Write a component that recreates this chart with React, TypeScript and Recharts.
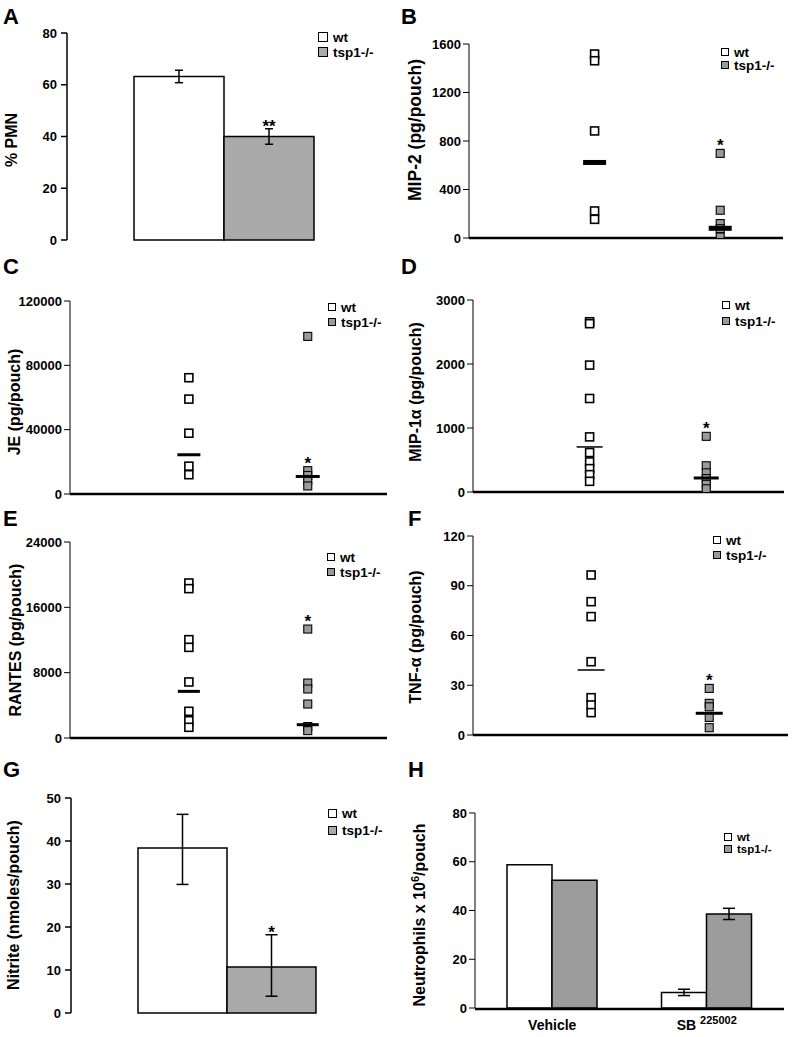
import React from 'react';
import {
  BarChart,
  Bar,
  ScatterChart,
  Scatter,
  XAxis,
  YAxis,
  ErrorBar,
  LabelList,
  Legend,
} from 'recharts';

const FONT = '"Liberation Sans", Arial, Helvetica, sans-serif';
const INK = '#000000';
const BAR_GRAY = '#a9a9a9';
const BAR_GRAY_H = '#9c9c9c';
const DOT_GRAY = '#9a9a9a';

const groups = ['wt', 'tsp1-/-'];

// A: % PMN (mean, sem)
const pmnMean = [63.2, 40.0];
const pmnSem = [2.4, 3.0];
const pmnTicks = [0, 20, 40, 60, 80];

// B: MIP-2 (pg/pouch)
const mip2Wt = [1517, 1462, 883, 223, 154];
const mip2Ko = [698, 229, 119, 77, 8];
const mip2Avg = [623, 80];
const mip2Ticks = [0, 400, 800, 1200, 1600];

// C: JE (pg/pouch)
const jeWt = [72300, 59000, 37800, 17300, 12000];
const jeKo = [98000, 14500, 11500, 8500, 5000];
const jeAvg = [24400, 10900];
const jeTicks = [0, 40000, 80000, 120000];

// D: MIP-1a (pg/pouch)
const mip1aWt = [2660, 2630, 1983, 1461, 861, 616, 470, 365, 271, 167];
const mip1aKo = [870, 410, 300, 210, 120, 50];
const mip1aAvg = [704, 219];
const mip1aTicks = [0, 1000, 2000, 3000];

// E: RANTES (pg/pouch)
const rantesWt = [18980, 18290, 12040, 11100, 6860, 3270, 2120, 1310];
const rantesKo = [13340, 6730, 6000, 4160, 1400, 900];
const rantesAvg = [5710, 1630];
const rantesTicks = [0, 8000, 16000, 24000];

// F: TNF-a (pg/pouch)
const tnfWt = [96.5, 80.4, 71.4, 44.2, 22.5, 18.1, 13.5];
const tnfKo = [28.1, 19.1, 17.0, 10.6, 4.4];
const tnfAvg = [39.2, 13.1];
const tnfTicks = [0, 30, 60, 90, 120];

// G: nitrite (mean, [lower, upper] error)
const nitriteMean = [38.4, 10.7];
const nitriteErr = [
  [8.5, 7.8],
  [6.8, 7.5],
];
const nitriteTicks = [0, 10, 20, 30, 40, 50];

// H: neutrophils x 10^6 / pouch
const treatments = ['Vehicle', 'SB 225002'];
const neutWt = [58.8, 6.4];
const neutKo = [52.4, 38.6];
const neutWtErr = [0, 1.3];
const neutKoErr = [0, 2.3];
const neutTicks = [0, 20, 40, 60, 80];

type Box = { left: number; top: number; width: number; height: number };
type Plot = { x0: number; x1: number; y0: number; y1: number };
type Key = { x: number; y: number; row: number; sw: number; size?: number };

const Y_W = 45;

function marginFor(box: Box, plot: Plot, xAxesH: number) {
  return {
    top: plot.y0 - box.top,
    left: plot.x0 - box.left - Y_W,
    right: box.left + box.width - plot.x1,
    bottom: box.top + box.height - plot.y1 - xAxesH,
  };
}

const tickStyle = { fill: INK, fontSize: 13, fontWeight: 700, fontFamily: FONT };

const pts = (vals: number[], g: number) => vals.map((v) => ({ x: g, y: v }));

function axisTitle(box: Box, x: number, y: number, title: React.ReactNode, size = 16) {
  const lx = x - box.left;
  const ly = y - box.top;
  return () => (
    <text
      x={lx}
      y={ly}
      transform={`rotate(-90 ${lx} ${ly})`}
      textAnchor="middle"
      fill={INK}
      fontSize={size}
      fontWeight={700}
      fontFamily={FONT}
    >
      {title}
    </text>
  );
}

function keyContent(k: Key) {
  return (props: any) => {
    const items = (props.payload || [])
      .filter((e: any) => e.type !== 'none')
      .slice()
      .sort((a: any, b: any) => groups.indexOf(a.value) - groups.indexOf(b.value));
    return (
      <div style={{ fontFamily: FONT, fontWeight: 700, fontSize: k.size ?? 13.5, color: INK }}>
        {items.map((e: any) => (
          <div
            key={e.value}
            style={{ display: 'flex', alignItems: 'center', height: k.row, whiteSpace: 'nowrap' }}
          >
            <span
              style={{
                display: 'inline-block',
                width: k.sw,
                height: k.sw,
                boxSizing: 'border-box',
                border: `1.5px solid ${INK}`,
                background: e.color,
                marginRight: 5,
              }}
            />
            {e.value}
          </div>
        ))}
      </div>
    );
  };
}

function keyLegend(box: Box, k: Key) {
  return (
    <Legend
      layout="vertical"
      align="center"
      verticalAlign="middle"
      wrapperStyle={{ left: k.x - box.left, top: k.y - box.top, width: 'auto', height: 'auto' }}
      content={keyContent(k)}
    />
  );
}

const square = (fill: string, sw: number) => (s: any) => (
  <rect x={s.cx - 4} y={s.cy - 4} width={8} height={8} fill={fill} stroke={INK} strokeWidth={sw} />
);

const meanMark = (w: number, t: number) => (s: any) => (
  <rect x={s.cx - w / 2} y={s.cy - t / 2} width={w} height={t} fill={INK} />
);

const starMark = (s: any) => (
  <text x={s.cx} y={s.cy - 2} textAnchor="middle" fontSize={17} fontWeight={700} fontFamily={FONT} fill={INK}>
    *
  </text>
);

// star above a bar's error bar, placed from the bar's own geometry
const barStar = (text: string, upper: number[], lift: number) => (props: any) => {
  const vb = props.viewBox || props;
  const v = Number(props.value);
  if (!v) return null;
  const idx = props.index ?? 0;
  const top = vb.y - (vb.height / v) * upper[idx];
  return (
    <text
      x={vb.x + vb.width / 2}
      y={top + lift}
      textAnchor="middle"
      fontSize={17}
      fontWeight={700}
      fontFamily={FONT}
      fill={INK}
    >
      {text}
    </text>
  );
};

function Letter({ ch, x, y }: { ch: string; x: number; y: number }) {
  return (
    <div
      style={{
        position: 'absolute',
        left: x,
        top: y,
        fontSize: 22,
        lineHeight: '22px',
        fontWeight: 700,
        fontFamily: FONT,
      }}
    >
      {ch}
    </div>
  );
}

interface DotPanelProps {
  box: Box;
  plot: Plot;
  xMax: number;
  yMax: number;
  ticks: number[];
  wt: number[];
  ko: number[];
  avg: number[];
  star: number;
  meanW: number[];
  meanT: number[];
  title: React.ReactNode;
  titleX: number;
  titleY: number;
  titleSize?: number;
  k: Key;
}

function DotPanel(p: DotPanelProps) {
  const { box, plot } = p;
  return (
    <div style={{ position: 'absolute', left: box.left, top: box.top }}>
      <ScatterChart width={box.width} height={box.height} margin={marginFor(box, plot, 1)}>
        <XAxis
          type="number"
          dataKey="x"
          domain={[0, p.xMax]}
          allowDataOverflow
          height={1}
          tick={false}
          tickLine={false}
          axisLine={{ stroke: INK, strokeWidth: 2.5 }}
        />
        <YAxis
          type="number"
          dataKey="y"
          domain={[0, p.yMax]}
          allowDataOverflow
          ticks={p.ticks}
          interval={0}
          width={Y_W}
          tickSize={6}
          tickMargin={2}
          tick={tickStyle}
          tickLine={{ stroke: INK }}
          axisLine={{ stroke: INK }}
          label={axisTitle(box, p.titleX, p.titleY, p.title, p.titleSize)}
        />
        {keyLegend(box, p.k)}
        <Scatter name={groups[0]} data={pts(p.wt, 1)} fill="#ffffff" shape={square('#ffffff', 1.6)} isAnimationActive={false} />
        <Scatter name={groups[1]} data={pts(p.ko, 2)} fill={DOT_GRAY} shape={square(DOT_GRAY, 1.1)} isAnimationActive={false} />
        <Scatter legendType="none" data={pts([p.avg[0]], 1)} shape={meanMark(p.meanW[0], p.meanT[0])} isAnimationActive={false} />
        <Scatter legendType="none" data={pts([p.avg[1]], 2)} shape={meanMark(p.meanW[1], p.meanT[1])} isAnimationActive={false} />
        <Scatter legendType="none" data={pts([p.star], 2)} shape={starMark} isAnimationActive={false} />
      </ScatterChart>
    </div>
  );
}

function PmnPanel() {
  const box = { left: 0, top: 0, width: 396, height: 255 };
  const plot = { x0: 67, x1: 381, y0: 33, y1: 240 };
  const rows = [{ name: 'PMN', wt: pmnMean[0], wtErr: pmnSem[0], ko: pmnMean[1], koErr: pmnSem[1] }];
  return (
    <div style={{ position: 'absolute', left: box.left, top: box.top }}>
      <BarChart width={box.width} height={box.height} data={rows} margin={marginFor(box, plot, 1)} barGap={0}>
        <XAxis
          xAxisId="frame"
          type="number"
          domain={[0, 1]}
          ticks={[0, 1]}
          allowDataOverflow
          height={1}
          tick={false}
          tickSize={5}
          tickLine={{ stroke: INK, strokeWidth: 1.5 }}
          axisLine={{ stroke: INK, strokeWidth: 1.5 }}
        />
        <XAxis dataKey="name" hide />
        <YAxis
          domain={[0, 80]}
          ticks={pmnTicks}
          interval={0}
          width={Y_W}
          tickSize={6}
          tickMargin={4}
          tick={tickStyle}
          tickLine={{ stroke: INK, strokeWidth: 1.5 }}
          axisLine={{ stroke: INK, strokeWidth: 1.5 }}
          label={axisTitle(box, 17, 140, '% PMN')}
        />
        {keyLegend(box, { x: 318, y: 29.5, row: 15, sw: 10 })}
        <Bar dataKey="wt" name={groups[0]} fill="#ffffff" stroke={INK} strokeWidth={1.5} barSize={90} isAnimationActive={false}>
          <ErrorBar dataKey="wtErr" width={4} stroke={INK} strokeWidth={1.5} />
        </Bar>
        <Bar dataKey="ko" name={groups[1]} fill={BAR_GRAY} stroke={INK} strokeWidth={1.5} barSize={90} isAnimationActive={false}>
          <ErrorBar dataKey="koErr" width={4} stroke={INK} strokeWidth={1.5} />
          <LabelList dataKey="ko" content={barStar('**', [pmnSem[1]], 3)} />
        </Bar>
      </BarChart>
    </div>
  );
}

function NitritePanel() {
  const box = { left: 0, top: 750, width: 396, height: 287 };
  const plot = { x0: 71, x1: 382, y0: 798, y1: 1013 };
  const rows = [
    { name: 'Nitrite', wt: nitriteMean[0], wtErr: nitriteErr[0], ko: nitriteMean[1], koErr: nitriteErr[1] },
  ];
  return (
    <div style={{ position: 'absolute', left: box.left, top: box.top }}>
      <BarChart width={box.width} height={box.height} data={rows} margin={marginFor(box, plot, 1)} barGap={0}>
        <XAxis
          xAxisId="frame"
          type="number"
          domain={[0, 1]}
          ticks={[0, 1]}
          allowDataOverflow
          height={1}
          tick={false}
          tickSize={5}
          tickLine={{ stroke: INK, strokeWidth: 1.5 }}
          axisLine={{ stroke: INK, strokeWidth: 1.5 }}
        />
        <XAxis dataKey="name" hide />
        <YAxis
          domain={[0, 50]}
          ticks={nitriteTicks}
          interval={0}
          width={Y_W}
          tickSize={6}
          tickMargin={4}
          tick={tickStyle}
          tickLine={{ stroke: INK, strokeWidth: 1.5 }}
          axisLine={{ stroke: INK, strokeWidth: 1.5 }}
          label={axisTitle(box, 19, 905, 'Nitrite (nmoles/pouch)')}
        />
        {keyLegend(box, { x: 328, y: 804.5, row: 17, sw: 9 })}
        <Bar dataKey="wt" name={groups[0]} fill="#ffffff" stroke={INK} strokeWidth={1.5} barSize={89} isAnimationActive={false}>
          <ErrorBar dataKey="wtErr" width={6} stroke={INK} strokeWidth={1.5} />
        </Bar>
        <Bar dataKey="ko" name={groups[1]} fill={BAR_GRAY} stroke={INK} strokeWidth={1.5} barSize={89} isAnimationActive={false}>
          <ErrorBar dataKey="koErr" width={6} stroke={INK} strokeWidth={1.5} />
          <LabelList dataKey="ko" content={barStar('*', [nitriteErr[1][1]], 3)} />
        </Bar>
      </BarChart>
    </div>
  );
}

const treatmentTick = (props: any) => {
  const { x, y, payload } = props;
  const [main, sup] = String(payload.value).split(' ');
  return (
    <text x={x} y={y + 14} textAnchor="middle" fill={INK} fontSize={14} fontWeight={700} fontFamily={FONT}>
      {main}
      {sup && (
        <tspan dx={4} dy={-6} fontSize={11}>
          {sup}
        </tspan>
      )}
    </text>
  );
};

function NeutrophilPanel() {
  const box = { left: 396, top: 750, width: 397, height: 287 };
  const plot = { x0: 475, x1: 784, y0: 813, y1: 1008 };
  const rows = treatments.map((t, i) => ({
    name: t,
    wt: neutWt[i],
    wtErr: neutWtErr[i],
    ko: neutKo[i],
    koErr: neutKoErr[i],
  }));
  return (
    <div style={{ position: 'absolute', left: box.left, top: box.top }}>
      <BarChart width={box.width} height={box.height} data={rows} margin={marginFor(box, plot, 2)} barGap={0}>
        <XAxis
          xAxisId="frame"
          type="number"
          domain={[0, treatments.length]}
          ticks={[0, 1, 2]}
          allowDataOverflow
          height={1}
          tick={false}
          tickSize={5}
          tickLine={{ stroke: INK, strokeWidth: 1 }}
          axisLine={{ stroke: INK, strokeWidth: 2.5 }}
        />
        <XAxis dataKey="name" height={1} axisLine={false} tickLine={false} tick={treatmentTick} interval={0} />
        <YAxis
          domain={[0, 80]}
          ticks={neutTicks}
          interval={0}
          width={Y_W}
          tickSize={6}
          tickMargin={2}
          tick={tickStyle}
          tickLine={{ stroke: INK }}
          axisLine={{ stroke: INK }}
          label={axisTitle(
            box,
            425,
            915,
            <>
              Neutrophils x 10
              <tspan dy={-6} fontSize={11}>
                6
              </tspan>
              <tspan dy={6}>/pouch</tspan>
            </>,
          )}
        />
        {keyLegend(box, { x: 724, y: 831, row: 12, sw: 8, size: 11.5 })}
        <Bar dataKey="wt" name={groups[0]} fill="#ffffff" stroke={INK} strokeWidth={1.5} barSize={45} isAnimationActive={false}>
          <ErrorBar dataKey="wtErr" width={6} stroke={INK} strokeWidth={1.5} />
        </Bar>
        <Bar dataKey="ko" name={groups[1]} fill={BAR_GRAY_H} stroke={INK} strokeWidth={1.5} barSize={45} isAnimationActive={false}>
          <ErrorBar dataKey="koErr" width={6} stroke={INK} strokeWidth={1.5} />
        </Bar>
      </BarChart>
    </div>
  );
}

export default function App() {
  return (
    <div
      style={{
        position: 'absolute',
        left: 0,
        top: 0,
        width: 793,
        height: 1037,
        background: '#ffffff',
        overflow: 'hidden',
        fontFamily: FONT,
      }}
    >
      <Letter ch="A" x={3} y={6} />
      <Letter ch="B" x={401} y={6} />
      <Letter ch="C" x={3} y={256} />
      <Letter ch="D" x={401} y={256} />
      <Letter ch="E" x={3} y={508} />
      <Letter ch="F" x={408} y={508} />
      <Letter ch="G" x={3} y={759} />
      <Letter ch="H" x={408} y={759} />

      <PmnPanel />
      <DotPanel
        box={{ left: 396, top: 0, width: 397, height: 255 }}
        plot={{ x0: 469, x1: 783, y0: 44, y1: 238 }}
        xMax={2.5}
        yMax={1600}
        ticks={mip2Ticks}
        wt={mip2Wt}
        ko={mip2Ko}
        avg={mip2Avg}
        star={mip2Ko[0]}
        meanW={[23, 23]}
        meanT={[5, 5]}
        title="MIP-2 (pg/pouch)"
        titleX={421}
        titleY={130}
        titleSize={17.5}
        k={{ x: 721, y: 45.5, row: 13, sw: 8 }}
      />
      <DotPanel
        box={{ left: 0, top: 255, width: 396, height: 250 }}
        plot={{ x0: 70, x1: 387, y0: 301, y1: 494 }}
        xMax={8 / 3}
        yMax={120000}
        ticks={jeTicks}
        wt={jeWt}
        ko={jeKo}
        avg={jeAvg}
        star={jeKo[1]}
        meanW={[23, 24]}
        meanT={[3, 3]}
        title="JE (pg/pouch)"
        titleX={20}
        titleY={402}
        k={{ x: 328, y: 299.5, row: 15, sw: 8 }}
      />
      <DotPanel
        box={{ left: 396, top: 255, width: 397, height: 250 }}
        plot={{ x0: 473, x1: 784, y0: 300, y1: 492 }}
        xMax={8 / 3}
        yMax={3000}
        ticks={mip1aTicks}
        wt={mip1aWt}
        ko={mip1aKo}
        avg={mip1aAvg}
        star={mip1aKo[0]}
        meanW={[26, 25]}
        meanT={[1.5, 3]}
        title="MIP-1α (pg/pouch)"
        titleX={421}
        titleY={392}
        k={{ x: 722, y: 297, row: 16, sw: 8 }}
      />
      <DotPanel
        box={{ left: 0, top: 505, width: 396, height: 245 }}
        plot={{ x0: 70, x1: 387, y0: 542, y1: 738 }}
        xMax={8 / 3}
        yMax={24000}
        ticks={rantesTicks}
        wt={rantesWt}
        ko={rantesKo}
        avg={rantesAvg}
        star={rantesKo[0]}
        meanW={[22, 22]}
        meanT={[3, 3]}
        title="RANTES (pg/pouch)"
        titleX={21}
        titleY={640}
        k={{ x: 327, y: 549.5, row: 15, sw: 8 }}
      />
      <DotPanel
        box={{ left: 396, top: 505, width: 397, height: 245 }}
        plot={{ x0: 473, x1: 788, y0: 536, y1: 735 }}
        xMax={8 / 3}
        yMax={120}
        ticks={tnfTicks}
        wt={tnfWt}
        ko={tnfKo}
        avg={tnfAvg}
        star={tnfKo[0]}
        meanW={[27, 27]}
        meanT={[1.5, 3]}
        title="TNF-α (pg/pouch)"
        titleX={421}
        titleY={637}
        k={{ x: 713, y: 532.5, row: 15, sw: 8 }}
      />
      <NitritePanel />
      <NeutrophilPanel />
    </div>
  );
}
